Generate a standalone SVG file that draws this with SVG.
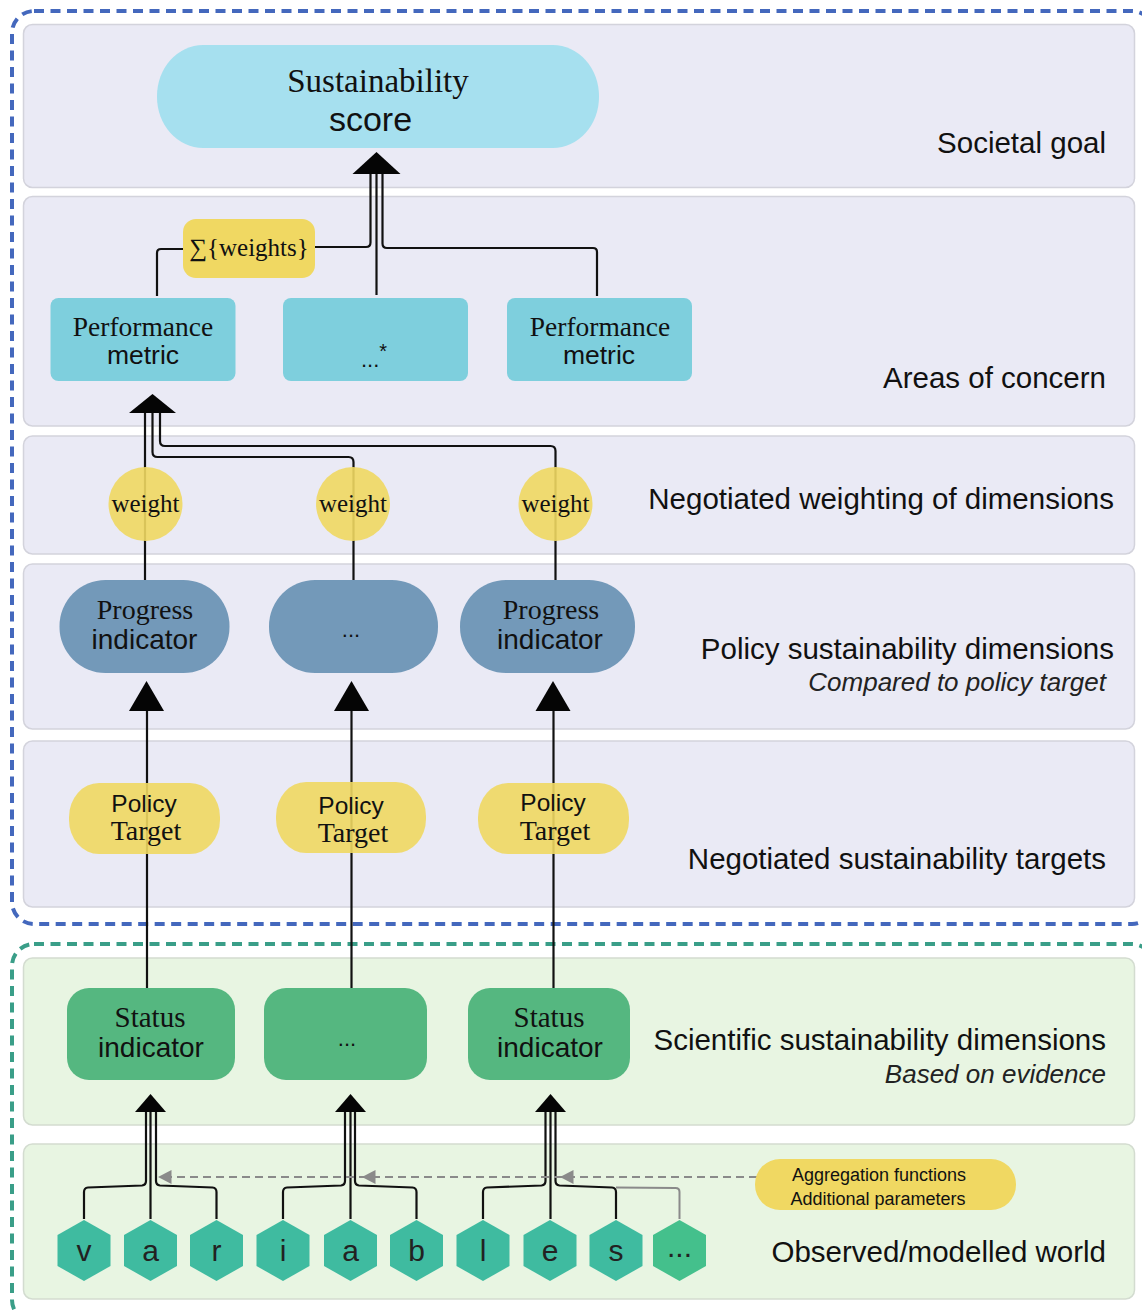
<svg xmlns="http://www.w3.org/2000/svg" width="1142" height="1310" viewBox="0 0 1142 1310">
<style>
.band{fill:#eaeaf5;stroke:#d3d3dc;stroke-width:1.5}
.gband{fill:#e8f5e2;stroke:#d3dcd0;stroke-width:1.5}
.lbl{font-family:"Liberation Sans",Arial,sans-serif;font-size:29.5px;fill:#111;text-anchor:end}
.sub{font-family:"Liberation Sans",Arial,sans-serif;font-size:26px;font-style:italic;fill:#222;text-anchor:end}
.serif{font-family:"Liberation Serif","Times New Roman",serif;fill:#111;text-anchor:middle}
.sans{font-family:"Liberation Sans",Arial,sans-serif;fill:#111;text-anchor:middle}
.ln{fill:none;stroke:#111;stroke-width:2.2}
.ah{fill:#050505}
.gray{fill:none;stroke:#8a8a8a;stroke-width:2;stroke-dasharray:8 5}
.gah{fill:#8a8a8a}
.yel{fill:#f0d862}
.yelT{fill:#f0d862;fill-opacity:0.9}
.pm{fill:#7ecfdd}
.pi{fill:#7399b9}
.si{fill:#55b780}
.hex{fill:#3fbba0}
.hexl{font-family:"Liberation Sans",Arial,sans-serif;font-size:30px;fill:#222;text-anchor:middle}
</style>
<defs>
<polygon id="hx" points="0,-30.5 26.5,-15.5 26.5,15.5 0,30.5 -26.5,15.5 -26.5,-15.5"/>
</defs>

<!-- outer dashed frames -->
<rect x="12" y="11" width="1142" height="913" rx="22" fill="none" stroke="#4468bd" stroke-width="4" stroke-dasharray="10 6.5"/>
<rect x="12" y="944" width="1142" height="378" rx="22" fill="none" stroke="#3a9e88" stroke-width="4" stroke-dasharray="10 6.5"/>

<!-- bands -->
<g id="bands">
<rect class="band" x="23.5" y="24.5" width="1111" height="163" rx="9"/>
<rect class="band" x="23.5" y="196.5" width="1111" height="229.5" rx="9"/>
<rect class="band" x="23.5" y="436" width="1111" height="118" rx="9"/>
<rect class="band" x="23.5" y="564" width="1111" height="165" rx="9"/>
<rect class="band" x="23.5" y="741" width="1111" height="166" rx="9"/>
<rect class="gband" x="23.5" y="958" width="1111" height="167" rx="9"/>
<rect class="gband" x="23.5" y="1144" width="1111" height="155" rx="9"/>
</g>

<g id="band-labels">
<text class="lbl" x="1106" y="153">Societal goal</text>
<text class="lbl" x="1106" y="388">Areas of concern</text>
<text class="lbl" x="1114" y="509">Negotiated weighting of dimensions</text>
<text class="lbl" x="1114" y="659">Policy sustainability dimensions</text>
<text class="sub" x="1106" y="691">Compared to policy target</text>
<text class="lbl" x="1106" y="869">Negotiated sustainability targets</text>
<text class="lbl" x="1106" y="1050">Scientific sustainability dimensions</text>
<text class="sub" x="1106" y="1083">Based on evidence</text>
<text class="lbl" x="1106" y="1262">Observed/modelled world</text>
</g>

<!-- connectors -->
<g id="connectors">
<!-- to sustainability score -->
<path class="ln" d="M315 247 H366 Q370.5 247 370.5 242.5 V172"/>
<path class="ln" d="M157 296 V253 Q157 249 161 249 H183"/>
<path class="ln" d="M376.5 295 V172"/>
<path class="ln" d="M597 296 V252 Q597 248 593 248 H387 Q382.5 248 382.5 243.5 V172"/>
<polygon class="ah" points="376.5,152 352.5,174 400.5,174"/>
<!-- to performance metric -->
<path class="ln" d="M145 580 V411"/>
<path class="ln" d="M353.5 580 V462 Q353.5 457 348.5 457 H157.5 Q152.5 457 152.5 452 V411"/>
<path class="ln" d="M555.5 580 V451 Q555.5 446 550.5 446 H165 Q160 446 160 441 V411"/>
<polygon class="ah" points="152.5,394 129,413 176,413"/>
<!-- status -> progress -->
<path class="ln" d="M147 988 V708"/>
<path class="ln" d="M351.5 991 V708"/>
<path class="ln" d="M553.5 991 V708"/>
<polygon class="ah" points="146.5,681 129,711 164,711"/>
<polygon class="ah" points="351.5,681 334,711 369,711"/>
<polygon class="ah" points="553,681 535.5,711 570.5,711"/>
<!-- variables -> status -->
<path class="ln" d="M84 1219 V1192 Q84 1188 88 1187.5 L142 1185.5 Q146 1185 146 1181 V1110" stroke-width="2"/>
<path class="ln" d="M150.5 1219 V1110" stroke-width="2"/>
<path class="ln" d="M216.5 1219 V1192 Q216.5 1188 212.5 1187.5 L160 1185.5 Q156 1185 156 1181 V1110" stroke-width="2"/>
<path class="ln" d="M283 1219 V1192 Q283 1188 287 1187.5 L341 1185.5 Q345 1185 345 1181 V1110" stroke-width="2"/>
<path class="ln" d="M350.5 1219 V1110" stroke-width="2"/>
<path class="ln" d="M416.5 1219 V1192 Q416.5 1188 412.5 1187.5 L359 1185.5 Q355 1185 355 1181 V1110" stroke-width="2"/>
<path class="ln" d="M483 1219 V1192 Q483 1188 487 1187.5 L541.5 1185.5 Q545.5 1185 545.5 1181 V1110" stroke-width="2"/>
<path class="ln" d="M550.5 1219 V1110" stroke-width="2"/>
<path class="ln" d="M616 1219 V1192 Q616 1188 612 1187.5 L559.5 1185.5 Q555.5 1185 555.5 1181 V1110" stroke-width="2"/>
<path d="M679.5 1219 V1192 Q679.5 1188 675.5 1188 L616 1187.5" fill="none" stroke="#8a8a8a" stroke-width="2"/>
<polygon class="ah" points="150.5,1094 135,1112 166,1112"/>
<polygon class="ah" points="350.5,1094 335,1112 366,1112"/>
<polygon class="ah" points="550.5,1094 535,1112 566,1112"/>
<!-- dashed aggregation arrow -->
<path class="gray" d="M757 1177 H168"/>
<polygon class="gah" points="158,1177 171.5,1170 171.5,1184"/>
<polygon class="gah" points="362,1177 375.5,1170 375.5,1184"/>
<polygon class="gah" points="560,1177 573.5,1170 573.5,1184"/>
</g>

<!-- nodes -->
<g id="sustainability-score">
<rect x="157" y="45" width="442" height="103" rx="46" ry="51" fill="#a6e0ef"/>
<text class="serif" x="378" y="92" font-size="33">Sustainability</text>
<text class="sans" x="370.5" y="131" font-size="34">score</text>
</g>

<g id="sum-weights">
<rect class="yel" x="183" y="219" width="132" height="59" rx="13"/>
<text class="serif" x="249" y="256" font-size="25">∑{weights}</text>
</g>

<g id="performance-metric-1">
<rect class="pm" x="50.5" y="298" width="185" height="83" rx="8"/>
<text class="serif" x="143" y="336" font-size="27.5">Performance</text>
<text class="sans" x="143" y="364" font-size="26.5">metric</text>
</g>
<g id="performance-metric-2">
<rect class="pm" x="283" y="298" width="185" height="83" rx="8"/>
<text class="sans" x="374" y="367" font-size="22">...<tspan dy="-9" font-size="20">*</tspan></text>
</g>
<g id="performance-metric-3">
<rect class="pm" x="507" y="298" width="185" height="83" rx="8"/>
<text class="serif" x="600" y="336" font-size="27.5">Performance</text>
<text class="sans" x="599" y="364" font-size="26.5">metric</text>
</g>

<g id="weight-1">
<circle class="yelT" cx="145.5" cy="504" r="37"/>
<text class="serif" x="145.5" y="512" font-size="25">weight</text>
</g>
<g id="weight-2">
<circle class="yelT" cx="353" cy="504" r="37"/>
<text class="serif" x="353" y="512" font-size="25">weight</text>
</g>
<g id="weight-3">
<circle class="yelT" cx="555.5" cy="504" r="37"/>
<text class="serif" x="555.5" y="512" font-size="25">weight</text>
</g>

<g id="progress-indicator-1">
<rect class="pi" x="59.5" y="580" width="170" height="93" rx="46" ry="46"/>
<text class="serif" x="145" y="619" font-size="28">Progress</text>
<text class="sans" x="144.5" y="649" font-size="28">indicator</text>
</g>
<g id="progress-indicator-2">
<rect class="pi" x="269" y="580" width="169" height="93" rx="46" ry="46"/>
<text class="sans" x="351" y="637" font-size="22">...</text>
</g>
<g id="progress-indicator-3">
<rect class="pi" x="460" y="580" width="175" height="93" rx="46" ry="46"/>
<text class="serif" x="551" y="619" font-size="28">Progress</text>
<text class="sans" x="550" y="649" font-size="28">indicator</text>
</g>

<g id="policy-target-1">
<rect class="yelT" x="69" y="783" width="151" height="71" rx="30" ry="34"/>
<text class="sans" x="144" y="812" font-size="24.5">Policy</text>
<text class="serif" x="146" y="840" font-size="28">Target</text>
</g>
<g id="policy-target-2">
<rect class="yelT" x="276" y="782" width="150" height="71" rx="30" ry="34"/>
<text class="sans" x="351" y="814" font-size="24.5">Policy</text>
<text class="serif" x="353" y="842" font-size="28">Target</text>
</g>
<g id="policy-target-3">
<rect class="yelT" x="478" y="783" width="151" height="71" rx="30" ry="34"/>
<text class="sans" x="553" y="811" font-size="24.5">Policy</text>
<text class="serif" x="555" y="840" font-size="28">Target</text>
</g>

<g id="status-indicator-1">
<rect class="si" x="67" y="988" width="168" height="92" rx="22"/>
<text class="serif" x="150" y="1027" font-size="29">Status</text>
<text class="sans" x="151" y="1057" font-size="28">indicator</text>
</g>
<g id="status-indicator-2">
<rect class="si" x="264" y="988" width="163" height="92" rx="22"/>
<text class="sans" x="347" y="1046" font-size="22">...</text>
</g>
<g id="status-indicator-3">
<rect class="si" x="468" y="988" width="162" height="92" rx="22"/>
<text class="serif" x="549" y="1027" font-size="29">Status</text>
<text class="sans" x="550" y="1057" font-size="28">indicator</text>
</g>

<g id="aggregation">
<rect class="yel" x="755" y="1159" width="261" height="51" rx="25"/>
<text class="sans" x="879" y="1181" font-size="18">Aggregation functions</text>
<text class="sans" x="878" y="1205" font-size="18">Additional parameters</text>
</g>

<g id="var-v"><use href="#hx" x="84" y="1250.5" class="hex"/><text class="hexl" x="84" y="1261">v</text></g>
<g id="var-a1"><use href="#hx" x="150.5" y="1250.5" class="hex"/><text class="hexl" x="150.5" y="1261">a</text></g>
<g id="var-r"><use href="#hx" x="216.5" y="1250.5" class="hex"/><text class="hexl" x="216.5" y="1261">r</text></g>
<g id="var-i"><use href="#hx" x="283" y="1250.5" class="hex"/><text class="hexl" x="283" y="1261">i</text></g>
<g id="var-a2"><use href="#hx" x="350.5" y="1250.5" class="hex"/><text class="hexl" x="350.5" y="1261">a</text></g>
<g id="var-b"><use href="#hx" x="416.5" y="1250.5" class="hex"/><text class="hexl" x="416.5" y="1261">b</text></g>
<g id="var-l"><use href="#hx" x="483" y="1250.5" class="hex"/><text class="hexl" x="483" y="1261">l</text></g>
<g id="var-e"><use href="#hx" x="550" y="1250.5" class="hex"/><text class="hexl" x="550" y="1261">e</text></g>
<g id="var-s"><use href="#hx" x="616" y="1250.5" class="hex"/><text class="hexl" x="616" y="1261">s</text></g>
<g id="var-more"><use href="#hx" x="679.5" y="1250.5" fill="#44c08c"/><text class="hexl" x="679.5" y="1257" font-size="20">...</text></g>
</svg>
